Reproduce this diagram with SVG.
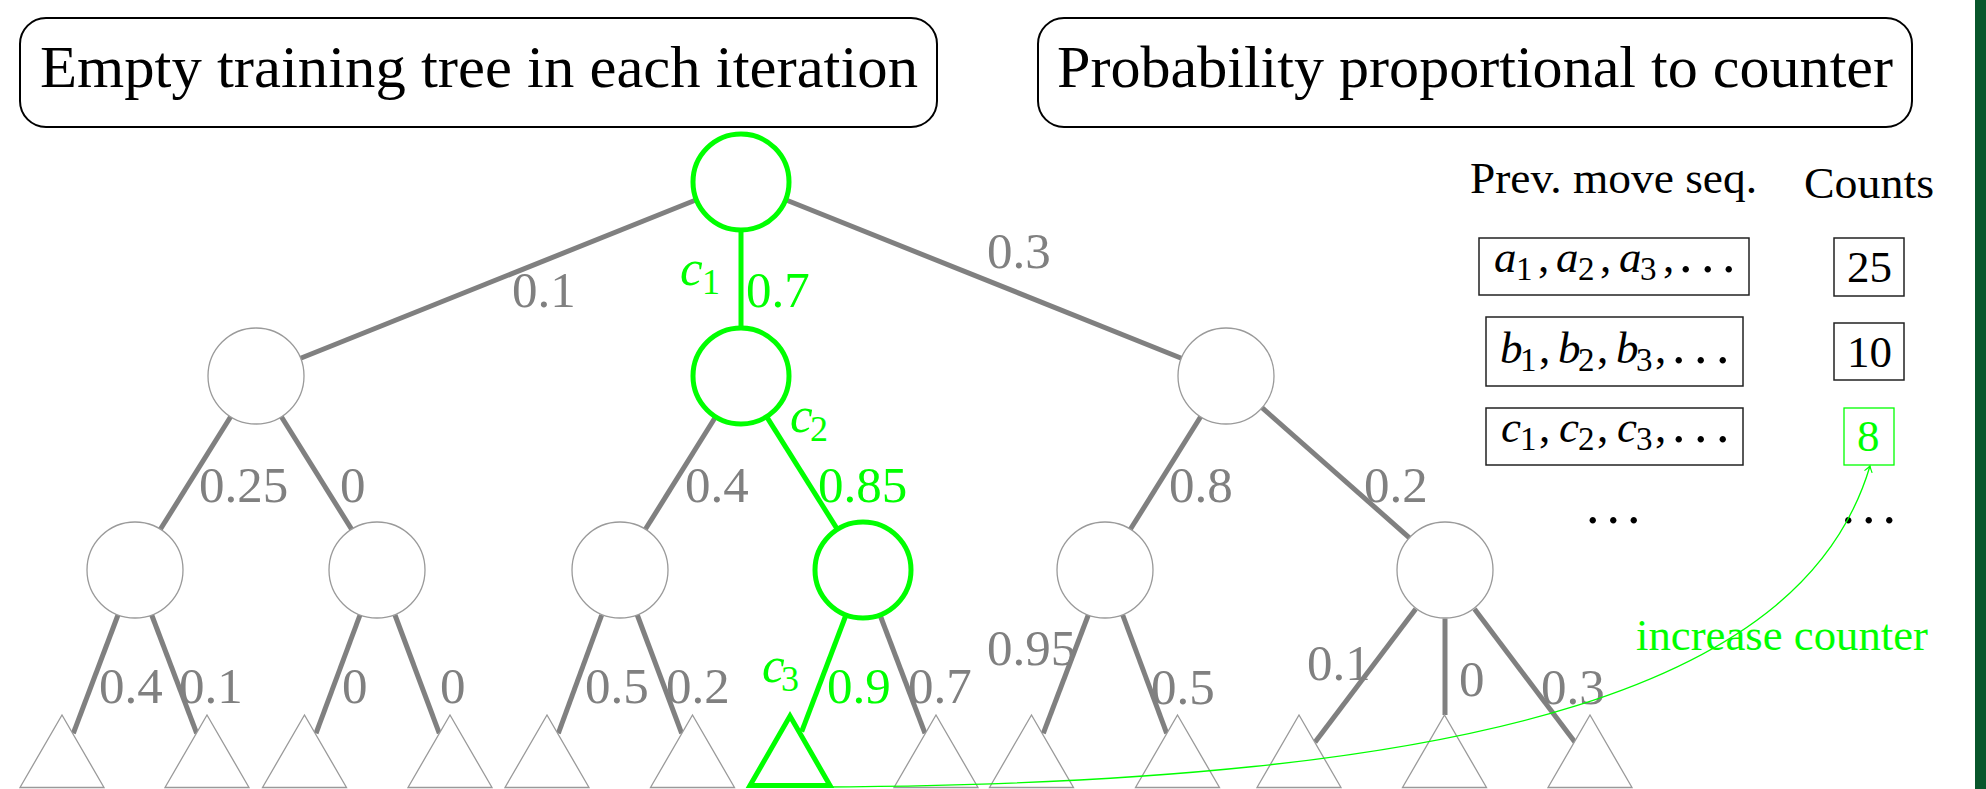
<svg xmlns="http://www.w3.org/2000/svg" width="1986" height="789" viewBox="0 0 1986 789">
  <defs>
    <style>
      .t{font-family:"Liberation Serif","Times New Roman",serif}
      .title{font-size:60px;fill:#000}
      .lbl{font-size:51px;fill:#808080}
      .g{fill:#00ff00}
      .it{font-style:italic}
      .sub{font-size:36px}
      .tab{font-size:45px;fill:#000}
      .tsub{font-size:33px}
      .dot{font-size:54px}
      .edge{stroke:#808080;stroke-width:5;fill:none}
      .hotedge{stroke:#00ff00;stroke-width:5;fill:none}
      .node{fill:#fff;stroke:#9a9a9a;stroke-width:1.3}
      .hotnode{fill:#fff;stroke:#00ff00;stroke-width:5}
      .leaf{fill:#fff;stroke:#9a9a9a;stroke-width:1.3}
      .hotleaf{fill:#fff;stroke:#00ff00;stroke-width:5;stroke-linejoin:miter}
      .tbox{fill:#fff;stroke:#000;stroke-width:2}
      .cell{fill:none;stroke:#222;stroke-width:1.5}
    </style>
    <marker id="arrow" viewBox="-8 -6 10 12" markerWidth="10" markerHeight="12" refX="0" refY="0" orient="auto" markerUnits="userSpaceOnUse">
      <path d="M-6,-4 Q-2,-1 0,0 Q-2,1 -6,4" fill="none" stroke="#00ff00" stroke-width="1.2"/>
    </marker>
  </defs>

  <rect width="1986" height="789" fill="#fff"/>
  <!-- dark side bar -->
  <rect x="1975" y="0" width="11" height="789" fill="#08562b"/>

  <!-- headings -->
  <g id="title-left">
    <rect class="tbox" x="20" y="18" width="917" height="109" rx="26"/>
    <text class="t title" x="40" y="87" textLength="878" lengthAdjust="spacingAndGlyphs">Empty training tree in each iteration</text>
  </g>
  <g id="title-right">
    <rect class="tbox" x="1038" y="18" width="874" height="109" rx="26"/>
    <text class="t title" x="1057" y="87" textLength="836" lengthAdjust="spacingAndGlyphs">Probability proportional to counter</text>
  </g>

  <!-- connectors -->
  <g id="edges">
    <line class="edge" x1="696.4" y1="199.8" x2="300.6" y2="358.2"/>
    <line class="hotedge" x1="741" y1="230" x2="741" y2="328"/>
    <line class="edge" x1="785.6" y1="199.8" x2="1181.4" y2="358.2"/>

    <line class="edge" x1="230.6" y1="416.7" x2="160.4" y2="529.3"/>
    <line class="edge" x1="281.4" y1="416.7" x2="351.6" y2="529.3"/>
    <line class="edge" x1="715.6" y1="416.7" x2="645.4" y2="529.3"/>
    <line class="hotedge" x1="766.6" y1="416.7" x2="837.4" y2="529.3"/>
    <line class="edge" x1="1200.6" y1="416.7" x2="1130.4" y2="529.3"/>
    <line class="edge" x1="1262" y1="407.7" x2="1410" y2="538.3"/>

    <line class="edge" x1="118" y1="615" x2="73.3" y2="733.3"/>
    <line class="edge" x1="151.7" y1="615" x2="196.7" y2="733.3"/>
    <line class="edge" x1="360" y1="615" x2="316" y2="733.3"/>
    <line class="edge" x1="395" y1="615" x2="439.3" y2="733.3"/>
    <line class="edge" x1="601.7" y1="615" x2="558.3" y2="733.3"/>
    <line class="edge" x1="637.3" y1="615" x2="681.7" y2="733.3"/>
    <line class="hotedge" x1="846" y1="615" x2="801.7" y2="731.7"/>
    <line class="edge" x1="880" y1="615" x2="925" y2="733.3"/>
    <line class="edge" x1="1088.3" y1="615" x2="1043.3" y2="733.3"/>
    <line class="edge" x1="1122.7" y1="615" x2="1166.7" y2="733.3"/>
    <line class="edge" x1="1415.7" y1="609" x2="1315" y2="742.3"/>
    <line class="edge" x1="1445" y1="618.5" x2="1445" y2="715"/>
    <line class="edge" x1="1474.5" y1="609" x2="1575" y2="742.3"/>
  </g>

  <!-- inner nodes -->
  <g id="root"><circle class="hotnode" cx="741" cy="182" r="48"/></g>
  <g id="n-l"><circle class="node" cx="256" cy="376" r="48"/></g>
  <g id="n-m"><circle class="hotnode" cx="741" cy="376" r="48"/></g>
  <g id="n-r"><circle class="node" cx="1226" cy="376" r="48"/></g>
  <g id="n-ll"><circle class="node" cx="135" cy="570" r="48"/></g>
  <g id="n-lr"><circle class="node" cx="377" cy="570" r="48"/></g>
  <g id="n-ml"><circle class="node" cx="620" cy="570" r="48"/></g>
  <g id="n-mr"><circle class="hotnode" cx="863" cy="570" r="48"/></g>
  <g id="n-rl"><circle class="node" cx="1105" cy="570" r="48"/></g>
  <g id="n-rr"><circle class="node" cx="1445" cy="570" r="48"/></g>

  <!-- leaves -->
  <g id="leaf-1"><polygon class="leaf" points="62,715 104,787.5 20,787.5"/></g>
  <g id="leaf-2"><polygon class="leaf" points="207,715 249,787.5 165,787.5"/></g>
  <g id="leaf-3"><polygon class="leaf" points="304.5,715 346.5,787.5 262.5,787.5"/></g>
  <g id="leaf-4"><polygon class="leaf" points="450,715 492,787.5 408,787.5"/></g>
  <g id="leaf-5"><polygon class="leaf" points="547,715 589,787.5 505,787.5"/></g>
  <g id="leaf-6"><polygon class="leaf" points="692.5,715 734.5,787.5 650.5,787.5"/></g>
  <g id="leaf-7"><polygon class="hotleaf" points="790,716 830,785.5 750,785.5"/></g>
  <g id="leaf-8"><polygon class="leaf" points="936,715 978,787.5 894,787.5"/></g>
  <g id="leaf-9"><polygon class="leaf" points="1031.5,715 1073.5,787.5 989.5,787.5"/></g>
  <g id="leaf-10"><polygon class="leaf" points="1177.5,715 1219.5,787.5 1135.5,787.5"/></g>
  <g id="leaf-11"><polygon class="leaf" points="1299,715 1341,787.5 1257,787.5"/></g>
  <g id="leaf-12"><polygon class="leaf" points="1444.5,715 1486.5,787.5 1402.5,787.5"/></g>
  <g id="leaf-13"><polygon class="leaf" points="1590,715 1632,787.5 1548,787.5"/></g>

  <!-- edge probabilities -->
  <g id="edge-labels" class="t">
    <text class="lbl" x="512" y="307">0.1</text>
    <text class="lbl g" x="746" y="307">0.7</text>
    <text class="lbl g it" x="680" y="285">c</text>
    <text class="lbl g sub" x="702" y="294">1</text>
    <text class="lbl" x="987" y="268">0.3</text>

    <text class="lbl" x="199" y="502">0.25</text>
    <text class="lbl" x="340" y="502">0</text>
    <text class="lbl" x="685" y="502">0.4</text>
    <text class="lbl g it" x="790" y="432">c</text>
    <text class="lbl g sub" x="810" y="441">2</text>
    <text class="lbl g" x="818" y="502">0.85</text>
    <text class="lbl" x="1169" y="502">0.8</text>
    <text class="lbl" x="1364" y="502">0.2</text>

    <text class="lbl" x="99" y="703">0.4</text>
    <text class="lbl" x="179" y="703">0.1</text>
    <text class="lbl" x="342" y="703">0</text>
    <text class="lbl" x="440" y="703">0</text>
    <text class="lbl" x="585" y="703">0.5</text>
    <text class="lbl" x="666" y="703">0.2</text>
    <text class="lbl g it" x="762" y="682">c</text>
    <text class="lbl g sub" x="781" y="691">3</text>
    <text class="lbl g" x="827" y="703">0.9</text>
    <text class="lbl" x="908" y="703">0.7</text>
    <text class="lbl" x="987" y="665">0.95</text>
    <text class="lbl" x="1151" y="704">0.5</text>
    <text class="lbl" x="1307" y="680">0.1</text>
    <text class="lbl" x="1459" y="696">0</text>
    <text class="lbl" x="1541" y="704">0.3</text>
  </g>

  <!-- counter table -->
  <g id="table-head" class="t">
    <text class="tab" x="1470" y="192.5" textLength="287" lengthAdjust="spacingAndGlyphs">Prev. move seq.</text>
    <text class="tab" x="1804" y="197.5" textLength="130" lengthAdjust="spacingAndGlyphs">Counts</text>
  </g>
  <g id="seq-a" class="t tab">
    <rect class="cell" x="1479" y="238" width="270" height="57"/>
    <text><tspan class="it" x="1494" y="272">a</tspan><tspan class="tsub" x="1516" y="280">1</tspan><tspan x="1538" y="272">,</tspan><tspan class="it" x="1556" y="272">a</tspan><tspan class="tsub" x="1578" y="280">2</tspan><tspan x="1600" y="272">,</tspan><tspan class="it" x="1619" y="272">a</tspan><tspan class="tsub" x="1640" y="280">3</tspan><tspan x="1663" y="272">,</tspan><tspan class="dot" x="1679" y="272">.</tspan><tspan class="dot" x="1701" y="272">.</tspan><tspan class="dot" x="1722" y="272">.</tspan></text>
  </g>
  <g id="count-a" class="t tab">
    <rect class="cell" x="1834" y="238" width="70" height="58"/>
    <text x="1847" y="282">25</text>
  </g>
  <g id="seq-b" class="t tab">
    <rect class="cell" x="1486" y="317" width="257" height="69"/>
    <text><tspan class="it" x="1500" y="363">b</tspan><tspan class="tsub" x="1520" y="371">1</tspan><tspan x="1539" y="363">,</tspan><tspan class="it" x="1558" y="363">b</tspan><tspan class="tsub" x="1578" y="371">2</tspan><tspan x="1597" y="363">,</tspan><tspan class="it" x="1616" y="363">b</tspan><tspan class="tsub" x="1636" y="371">3</tspan><tspan x="1655" y="363">,</tspan><tspan class="dot" x="1672" y="363">.</tspan><tspan class="dot" x="1694" y="363">.</tspan><tspan class="dot" x="1716" y="363">.</tspan></text>
  </g>
  <g id="count-b" class="t tab">
    <rect class="cell" x="1834" y="323" width="70" height="57"/>
    <text x="1847" y="367">10</text>
  </g>
  <g id="seq-c" class="t tab">
    <rect class="cell" x="1486" y="408" width="257" height="57"/>
    <text><tspan class="it" x="1501" y="442">c</tspan><tspan class="tsub" x="1520" y="450">1</tspan><tspan x="1539" y="442">,</tspan><tspan class="it" x="1559" y="442">c</tspan><tspan class="tsub" x="1578" y="450">2</tspan><tspan x="1597" y="442">,</tspan><tspan class="it" x="1617" y="442">c</tspan><tspan class="tsub" x="1636" y="450">3</tspan><tspan x="1655" y="442">,</tspan><tspan class="dot" x="1672" y="442">.</tspan><tspan class="dot" x="1694" y="442">.</tspan><tspan class="dot" x="1716" y="442">.</tspan></text>
  </g>
  <g id="count-c" class="t tab">
    <rect x="1844" y="408" width="50" height="57" fill="none" stroke="#00ff00" stroke-width="1.3"/>
    <text class="g" x="1857" y="451">8</text>
  </g>
  <g id="table-more" class="t tab">
    <text class="dot"><tspan x="1586" y="522.5">.</tspan><tspan x="1606.5" y="522.5">.</tspan><tspan x="1627" y="522.5">.</tspan></text>
    <text class="dot"><tspan x="1841.5" y="522.5">.</tspan><tspan x="1862" y="522.5">.</tspan><tspan x="1882.5" y="522.5">.</tspan></text>
  </g>

  <!-- counter update -->
  <g id="update">
    <text class="t g" x="1636" y="650" font-size="45" textLength="292" lengthAdjust="spacingAndGlyphs">increase counter</text>
    <path d="M790,787 C1510,787 1807.5,677 1870,466" fill="none" stroke="#00ff00" stroke-width="1.3" marker-end="url(#arrow)"/>
  </g>
</svg>
